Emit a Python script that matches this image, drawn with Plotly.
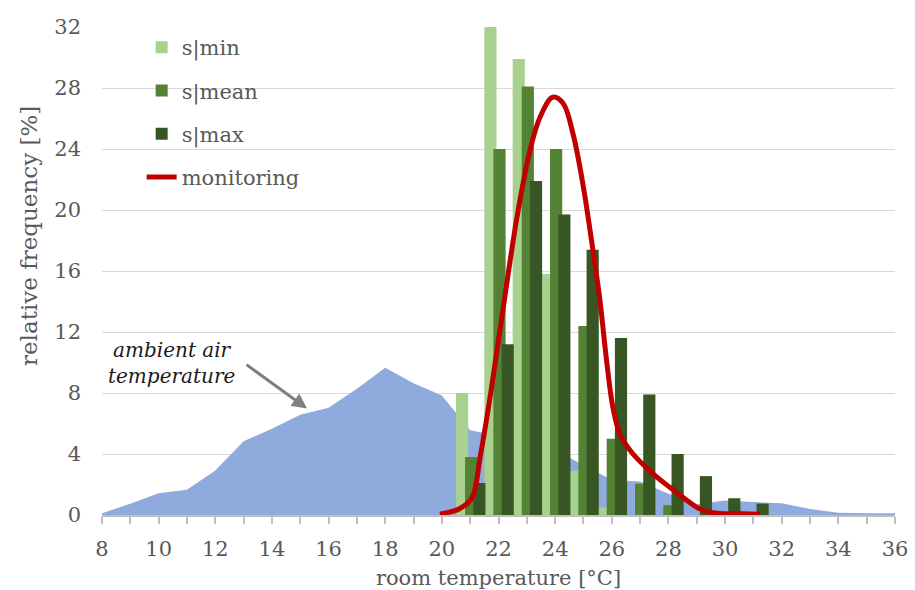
import plotly.graph_objects as go

# ---- data ----
bin_centers = [21, 22, 23, 24, 25, 26, 27, 28, 29, 30, 31]
s_min = [8.0, 32.0, 29.9, 15.8, 2.9, 0.5, 0, 0, 0, 0, 0]
s_mean = [3.8, 24.0, 28.1, 24.0, 12.4, 5.0, 2.05, 0.65, 0, 0, 0]
s_max = [2.1, 11.2, 21.9, 19.7, 17.4, 11.6, 7.9, 4.0, 2.55, 1.1, 0.75]

mon_t = [19.93, 20.64, 21.07, 21.35, 21.70, 22.05, 22.65, 23.11, 23.47, 23.92, 24.28,
         24.63, 24.98, 25.34, 25.58, 25.83, 26.04, 26.29, 26.75, 27.46, 28.06, 28.66,
         29.05, 29.45, 30.0, 30.6, 31.23]
mon_f = [0.05, 0.43, 1.15, 3.77, 7.7, 12.1, 19.5, 23.9, 26.1, 27.4, 27.0,
         25.0, 21.7, 17.3, 14.1, 9.9, 7.05, 5.3, 4.0, 2.7, 1.8, 0.95,
         0.45, 0.18, 0.08, 0.08, 0.05]

amb_t = list(range(8, 37))
amb_f = [0.12, 0.73, 1.43, 1.65, 2.92, 4.84, 5.65, 6.57, 7.03, 8.28, 9.65, 8.64, 7.84,
         5.55, 5.2, 4.7, 4.2, 3.3, 2.3, 2.2, 1.4, 0.7, 0.95, 0.85, 0.77, 0.4, 0.14, 0.12, 0.12]

x_ticks = list(range(8, 37, 2))
y_ticks = list(range(0, 33, 4))

FONT = "DejaVu Serif"
GREY = "#595959"

fig = go.Figure()

# ambient air temperature area (main axes, drawn underneath)
fig.add_trace(go.Scatter(
    x=amb_t, y=amb_f, mode="lines", fill="tozeroy",
    line=dict(width=0, color="#8FAADC"), fillcolor="#8FAADC",
    showlegend=False, hoverinfo="skip", xaxis="x", yaxis="y"))

# bars on overlay axes
bar_specs = [("s|min", s_min, "#A9D18E", -0.50),
             ("s|mean", s_mean, "#548235", -0.18),
             ("s|max", s_max, "#375623", 0.11)]
for name, vals, col, off in bar_specs:
    fig.add_trace(go.Bar(
        x=bin_centers, y=vals, name=name, marker=dict(color=col, line=dict(width=0)),
        offset=off, width=0.43, xaxis="x2", yaxis="y2", legendgroup=name))

# monitoring line on a further overlay
fig.add_trace(go.Scatter(
    x=mon_t, y=mon_f, mode="lines", name="monitoring",
    line=dict(color="#C00000", width=5, shape="spline", smoothing=1.0),
    xaxis="x3", yaxis="y3", legendgroup="monitoring"))

xr = [8, 36]
yr = [0, 32]

fig.update_layout(
    width=915, height=590,
    margin=dict(l=102, r=20, t=27, b=75),
    paper_bgcolor="white", plot_bgcolor="white",
    font=dict(family=FONT, size=21, color=GREY),
    barmode="overlay",
    xaxis=dict(range=xr, tickvals=x_ticks, ticktext=[str(v) for v in x_ticks],
               automargin=False,
               showgrid=False, zeroline=False, showline=True, linecolor="#BFBFBF",
               linewidth=1.5, ticks="outside", ticklen=7, tickcolor="#BFBFBF",
               tickwidth=1.5, ticklabelstandoff=7,
               minor=dict(dtick=1, ticks="outside", ticklen=7, tickcolor="#BFBFBF",
                          tickwidth=1.5, showgrid=False),
               tickfont=dict(size=21, color=GREY),
               title=dict(text="room temperature [°C]", font=dict(size=21, color=GREY),
                          standoff=10)),
    yaxis=dict(range=yr, tickvals=y_ticks, showgrid=True, gridcolor="#D9D9D9",
               automargin=False,
               gridwidth=1.2, zeroline=False, showline=False, ticks="",
               ticklabelstandoff=20,
               tickfont=dict(size=21, color=GREY)),
    xaxis2=dict(range=xr, overlaying="x", visible=False),
    yaxis2=dict(range=yr, overlaying="y", visible=False),
    xaxis3=dict(range=xr, overlaying="x", visible=False),
    yaxis3=dict(range=yr, overlaying="y", visible=False),
    legend=dict(x=0.05, y=1.0, xanchor="left", yanchor="top",
                bgcolor="rgba(0,0,0,0)", font=dict(size=21, color=GREY),
                tracegroupgap=13, itemwidth=30),
    showlegend=True,
)

# y-axis title (Excel places it slightly above centre)
fig.add_annotation(x=29, y=236, xref="paper", yref="paper",
                   text="relative frequency [%]", showarrow=False, textangle=-90,
                   font=dict(family=FONT, size=23, color=GREY),
                   xanchor="center", yanchor="middle")

# annotation text and arrow
fig.add_annotation(x=10.47, y=10.0, xref="x", yref="y",
                   text="<i>ambient air<br>temperature</i>", showarrow=False,
                   font=dict(family=FONT, size=20, color="#1a1a1a"), align="center")
fig.add_annotation(x=15.24, y=6.98, ax=13.05, ay=9.93, xref="x", yref="y",
                   axref="x", ayref="y", text="", showarrow=True, arrowhead=2,
                   arrowsize=1, arrowwidth=3, arrowcolor="#7F7F7F")

# convert pixel positions of the y-title annotation to paper coords
plot_w = 915 - 102 - 20
plot_h = 590 - 27 - 75
ann = fig.layout.annotations[0]
ann.x = (ann.x - 102) / plot_w
ann.y = (590 - 75 - ann.y) / plot_h

fig.write_html("out.html")
